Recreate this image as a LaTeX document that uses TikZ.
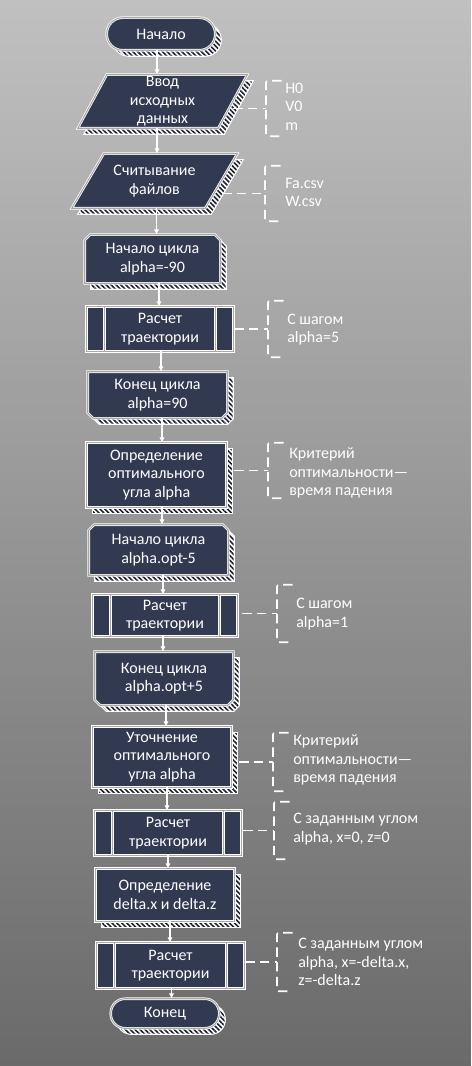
\documentclass[tikz,border=0pt]{standalone}
\usepackage{fontspec}
\setmainfont{Carlito}
\usetikzlibrary{arrows.meta,patterns.meta,calc}
\pgfdeclarelayer{back}
\pgfdeclarelayer{bg}
\pgfsetlayers{back,bg,main}
\definecolor{navy}{HTML}{323A52}
\definecolor{gapc}{HTML}{A8A8A8}
\definecolor{bgtop}{HTML}{C0C0C0}
\definecolor{bgbot}{HTML}{6A6A6A}
\definecolor{hatch}{HTML}{1E2230}
\tikzset{
  fctext/.style={text=white, align=center, inner sep=0pt, font=\fontsize{12}{14}\selectfont},
  annot/.style={text=white, align=left, anchor=west, inner sep=0pt, font=\fontsize{12}{14}\selectfont},
  brk/.style={inner sep=0pt, anchor=west, minimum width=11.25pt},
  shapest/.style={fill=navy, draw=white, double=gapc, double distance=0.8pt, line width=0.55pt},
  innerln/.style={draw=white, double=gapc, double distance=0.8pt, line width=0.55pt},
  shadowst/.style={draw=white, line width=0.8pt, preaction={fill=white}, pattern={Lines[angle=-45,distance=2.6pt,line width=1.2pt]}, pattern color=hatch},
  arrowst/.style={draw=white, line width=0.8pt, -{Latex[length=4pt,width=4pt]}},
  dashst/.style={draw=white, line width=1.3pt, dash pattern=on 7pt off 4pt},
}
\newcommand\pRect[1]{(#1.north west) rectangle (#1.south east)}
\newcommand\pTerm[2]{[rounded corners=#2] (#1.north west) rectangle (#1.south east)}
\newcommand\pPara[2]{([xshift=#2]#1.north west) -- (#1.north east) -- ([xshift=-#2]#1.south east) -- (#1.south west) -- cycle}
\newcommand\pLoopS[2]{([xshift=#2]#1.north west) -- ([xshift=-#2]#1.north east) -- ([yshift=-#2]#1.north east) -- (#1.south east) -- (#1.south west) -- ([yshift=-#2]#1.north west) -- cycle}
\newcommand\pLoopE[2]{(#1.north west) -- (#1.north east) -- ([yshift=#2]#1.south east) -- ([xshift=-#2]#1.south east) -- ([xshift=#2]#1.south west) -- ([yshift=#2]#1.south west) -- cycle}
\newcommand\fcshape[2]{%
  \begin{pgfonlayer}{bg}
    \ifnum#2=1
      \begin{scope}[transform canvas={shift={(4.5pt,-4.5pt)}}]
        \path[shadowst] #1;
      \end{scope}
    \fi
    \path[shapest] #1;
  \end{pgfonlayer}}
\newcommand\fcnode[6]{\node[fctext, minimum width=#4*0.75pt, minimum height=#5*0.75pt] (#1) at (#2,#3) {#6};}
\newcommand\procln[1]{\begin{pgfonlayer}{bg}\path[innerln] ([xshift=13.5pt]#1.north west) -- ([xshift=13.5pt]#1.south west) ([xshift=-13.5pt]#1.north east) -- ([xshift=-13.5pt]#1.south east);\end{pgfonlayer}}
\newcommand\bracketat[4]{%
  \node[brk, minimum height=#4*0.75pt] (#1) at (#2,#3) {};
  \draw[dashst, rounded corners=1.5pt] (#1.north east) -- (#1.north west) -- (#1.south west) -- (#1.south east);}
\newcommand\dashc[3]{\draw[dashst] (#2.west -| #1.east) ++(#3*0.75pt,0) -- (#2.west);}
\newcommand\arr[3]{\draw[arrowst] ([xshift=#3*0.75pt]#1.south) coordinate (tmp) -- (tmp |- #2.north);}
\begin{document}
\begin{tikzpicture}[x=0.75pt,y=-0.75pt]
\useasboundingbox (0,0) rectangle (471,1066);
\begin{pgfonlayer}{back}
\foreach \i in {0,...,213}{%
  \pgfmathsetmacro\pp{\i/213*100}%
  \fill[bgbot!\pp!bgtop] (0,\i*5) rectangle (471,\i*5+5.6);}
\end{pgfonlayer}

% main nodes
\fcnode{n1}{161}{34}{108}{32}{Начало}
\fcshape{\pTerm{n1}{12pt}}{1}
\fcnode{n2}{162.5}{101.5}{169}{53}{Ввод\\исходных\\данных}
\fcshape{\pPara{n2}{21.75pt}}{1}
\fcnode{n3}{154.5}{181}{165}{54}{Считывание\\файлов}
\fcshape{\pPara{n3}{24pt}}{1}
\fcnode{n4}{152.5}{259}{135}{48}{Начало цикла\\alpha=-90}
\fcshape{\pLoopS{n4}{4pt}}{1}
\fcnode{n5}{160}{329}{146}{44}{Расчет\\траектории}
\fcshape{\pRect{n5}}{0}
\procln{n5}
\fcnode{n6}{157.5}{395}{139}{46}{Конец цикла\\alpha=90}
\fcshape{\pLoopE{n6}{4pt}}{1}
\fcnode{n7}{156.5}{475}{139}{64}{Определение\\оптимального\\угла alpha}
\fcshape{\pRect{n7}}{1}
\fcnode{n8}{158.5}{550}{139}{50}{Начало цикла\\alpha.opt-5}
\fcshape{\pLoopS{n8}{4pt}}{1}
\fcnode{n9}{165}{615.5}{144}{41}{Расчет\\траектории}
\fcshape{\pRect{n9}}{0}
\procln{n9}
\fcnode{n10}{164}{678.5}{138}{53}{Конец цикла\\alpha.opt+5}
\fcshape{\pLoopE{n10}{4pt}}{1}
\fcnode{n11}{162}{757}{138}{60}{Уточнение\\оптимального\\угла alpha}
\fcshape{\pRect{n11}}{1}
\fcnode{n12}{168}{833}{146}{44}{Расчет\\траектории}
\fcshape{\pRect{n12}}{0}
\procln{n12}
\fcnode{n13}{165}{895}{138}{52}{Определение\\delta.x и delta.z}
\fcshape{\pRect{n13}}{1}
\fcnode{n14}{170.5}{965.5}{147}{45}{Расчет\\траектории}
\fcshape{\pRect{n14}}{0}
\procln{n14}
\fcnode{n15}{165}{1013.5}{108}{29}{Конец}
\fcshape{\pTerm{n15}{10.8pt}}{1}

% arrows
\arr{n1}{n2}{-4}
\arr{n2}{n3}{-5.5}
\arr{n3}{n4}{2}
\arr{n4}{n5}{6.5}
\arr{n5}{n6}{1}
\arr{n6}{n7}{4.5}
\arr{n7}{n8}{5.5}
\arr{n8}{n9}{4.5}
\arr{n9}{n10}{-2}
\arr{n10}{n11}{2}
\arr{n11}{n12}{5}
\arr{n12}{n13}{0}
\arr{n13}{n14}{5}
\arr{n14}{n15}{1}

% annotations
\bracketat{b1}{266}{108.5}{55}
\node[annot] (t1) at (285,106.5) {H0\\V0\\m};
\dashc{n2}{b1}{-14}
\bracketat{b2}{265}{193.5}{55}
\node[annot] (t2) at (285,192.5) {Fa.csv\\W.csv};
\dashc{n3}{b2}{-15}
\bracketat{b3}{268}{329}{56}
\node[annot] (t3) at (287,329.5) {С шагом\\alpha=5};
\dashc{n5}{b3}{1}
\bracketat{b4}{268}{470.5}{55}
\node[annot] (t4) at (289,473) {Критерий\\оптимальности—\\время падения};
\dashc{n7}{b4}{8}
\bracketat{b5}{277}{613.5}{57}
\node[annot] (t5) at (296,614) {С шагом\\alpha=1};
\dashc{n9}{b5}{5}
\bracketat{b6}{273}{762}{58}
\node[annot] (t6) at (293,760) {Критерий\\оптимальности—\\время падения};
\dashc{n11}{b6}{8}
\bracketat{b7}{274}{830.5}{57}
\node[annot] (t7) at (293,829) {С заданным углом\\alpha, x=0, z=0};
\dashc{n12}{b7}{2}
\bracketat{b8}{277}{962}{58}
\node[annot] (t8) at (298,962) {С заданным углом\\alpha, x=-delta.x,\\z=-delta.z};
\dashc{n14}{b8}{1}
\end{tikzpicture}
\end{document}
